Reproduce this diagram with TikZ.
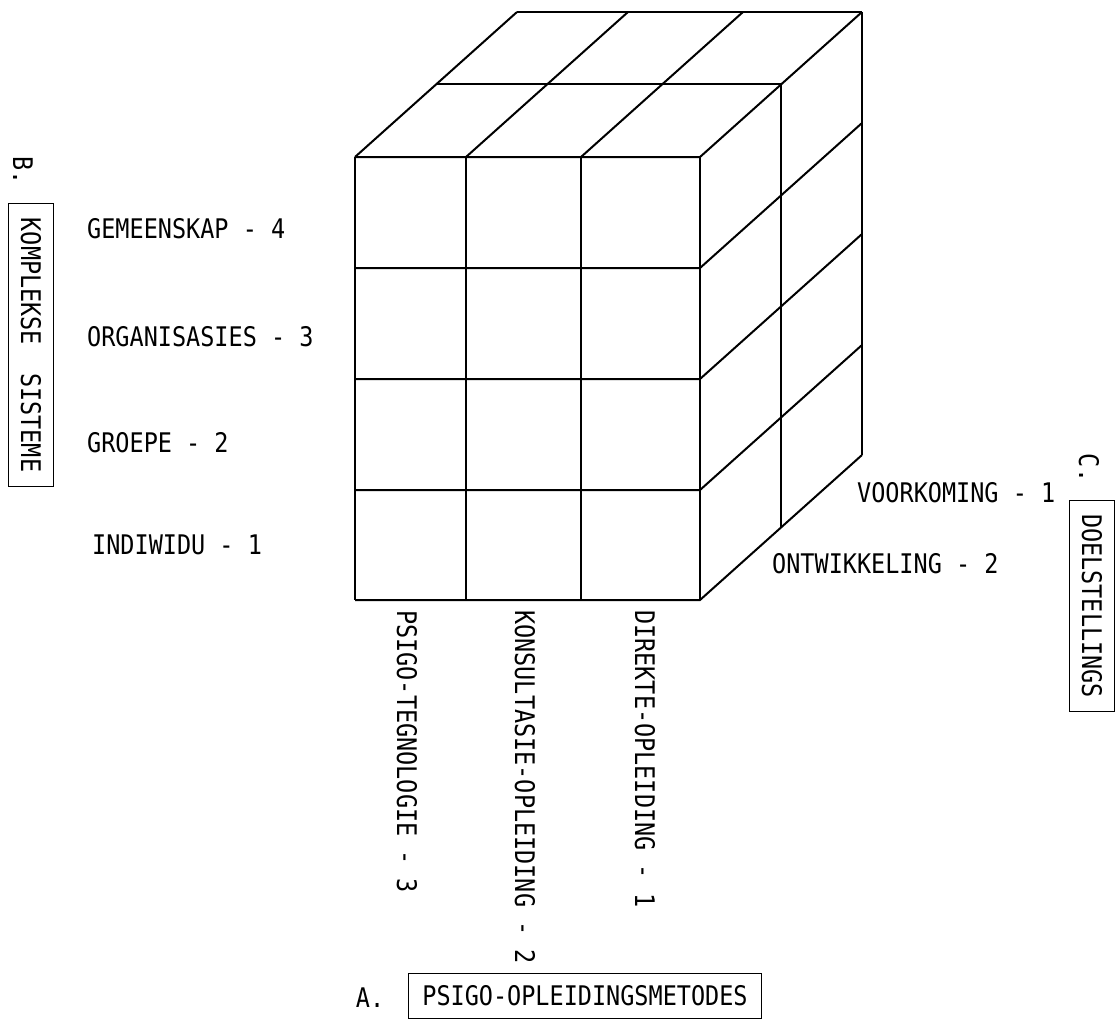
\documentclass[tikz,border=0pt]{standalone}
\usepackage{fontspec}
\setmonofont{DejaVu Sans Mono}[FakeStretch=0.87]

\begin{document}
\begin{tikzpicture}[x=1pt, y=-1pt,
	boldline/.style={line width=2pt},
	thinline/.style={line width=1.1pt},
	lbl/.style={font=\ttfamily\fontsize{27}{30}\selectfont, inner sep=0pt},
	boxlbl/.style={lbl, draw, line width=1.1pt, inner xsep=14pt, inner ysep=12pt}]
	% Page and cube:
	\fill[white] (0, 0) rectangle (1117, 1025);
	\foreach \x in {355, 466, 581, 700}
		\draw[thinline] (\x, 157) -- (\x, 600);
	\foreach \y in {157, 268, 379, 490, 600}
		\draw[boldline] (355, \y) -- (700, \y) -- ++(162, -145);
	\foreach \d in {1, 2}
		\draw[thinline] (700+81*\d, 157-72.5*\d) -- ++(0, 443);
	\foreach \x in {355, 466, 581}
		\draw[boldline] (\x, 157) -- ++(162, -145);
	\foreach \d in {1, 2}
		\draw[boldline] (355+81*\d, 157-72.5*\d) -- ++(345, 0);
	% B-axis:
	\node[lbl, rotate=-90] (bletter) at (23, 171) {B.};
	\node[boxlbl, rotate=-90] (komplekse) at (31, 345) {KOMPLEKSE\ \ SISTEME};
	\node[lbl, anchor=west] (gemeenskap) at (87, 229) {GEMEENSKAP - 4};
	\node[lbl, anchor=west] (organisasies) at (87, 337) {ORGANISASIES - 3};
	\node[lbl, anchor=west] (groepe) at (87, 443) {GROEPE - 2};
	\node[lbl, anchor=west] (indiwidu) at (92, 545) {INDIWIDU - 1};
	% A-axis:
	\node[lbl, rotate=-90, anchor=west] (tegnologie) at (407, 610) {PSIGO-TEGNOLOGIE - 3};
	\node[lbl, rotate=-90, anchor=west] (konsultasie) at (525, 610) {KONSULTASIE-OPLEIDING - 2};
	\node[lbl, rotate=-90, anchor=west] (direkte) at (645, 610) {DIREKTE-OPLEIDING - 1};
	\node[lbl] (aletter) at (370, 998) {A.};
	\node[boxlbl] (metodes) at (585, 996) {PSIGO-OPLEIDINGSMETODES};
	% C-axis:
	\node[lbl, anchor=west] (voorkoming) at (857, 493) {VOORKOMING - 1};
	\node[lbl, anchor=west] (ontwikkeling) at (772, 564) {ONTWIKKELING - 2};
	\node[lbl, rotate=-90] (cletter) at (1089, 468) {C.};
	\node[boxlbl, rotate=-90] (doelstellings) at (1092, 606) {DOELSTELLINGS};
\end{tikzpicture}
\end{document}
